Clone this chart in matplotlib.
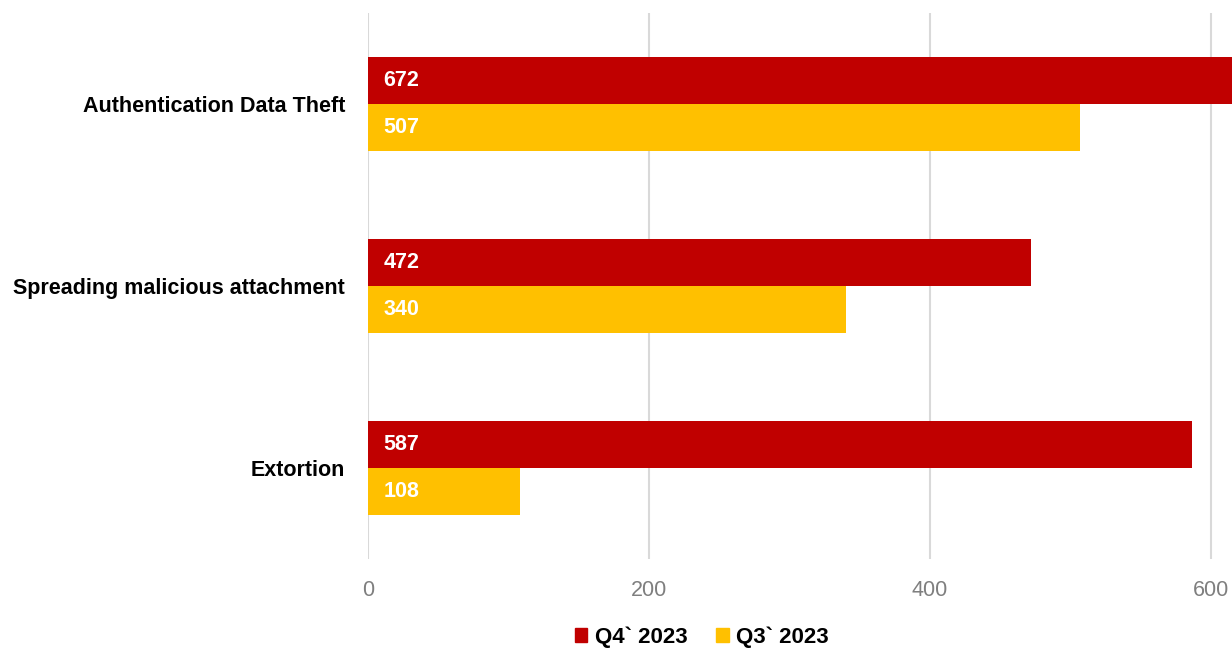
import matplotlib
matplotlib.use('Agg')
import matplotlib.pyplot as plt
from matplotlib.patches import Patch

plt.rcParams['font.family'] = ['Liberation Sans', 'DejaVu Sans']

# data
categories = ['Authentication Data Theft', 'Spreading malicious attachment', 'Extortion']
q4_2023 = [672, 472, 587]
q3_2023 = [507, 340, 108]
series_names = ['Q4` 2023', 'Q3` 2023']
colors = ['#C00000', '#FFC000']

fig = plt.figure(figsize=(12.32, 6.48), dpi=100)
ax = fig.add_axes([368/1232, 1 - 559/648, 1 - 368/1232, 546/648])

h = 0.258
ypos = list(range(len(categories)))
b1 = ax.barh([y - h/2 for y in ypos], q4_2023, height=h, color=colors[0])
b2 = ax.barh([y + h/2 for y in ypos], q3_2023, height=h, color=colors[1])

for bars, vals in [(b1, q4_2023), (b2, q3_2023)]:
    for b, v in zip(bars, vals):
        ax.text(11, b.get_y() + b.get_height()/2, str(v), color='white',
                fontsize=15.5, fontweight='semibold', va='center', ha='left')

ax.set_ylim(2.5, -0.5)
ax.set_xlim(0, 615.2)
ax.set_xticks([0, 200, 400, 600])
ax.set_yticks(ypos)
ax.set_yticklabels(categories, fontsize=15.5, fontweight='semibold')
ax.tick_params(axis='x', colors='#7f7f7f', labelsize=15.5, length=0, pad=15)
ax.tick_params(axis='y', length=0, pad=16.5)
ax.grid(axis='x', color='#d9d9d9', linewidth=1.5)
ax.set_axisbelow(True)
for s in ax.spines.values():
    s.set_visible(False)

handles = [Patch(color=c) for c in colors]
fig.legend(handles, series_names, loc='center', bbox_to_anchor=(702/1232, 1 - 637/648),
           ncol=2, frameon=False, prop={'weight': 'semibold', 'size': 16},
           handlelength=0.55, handleheight=0.55, handletextpad=0.35, columnspacing=1.3)

fig.savefig('out.png', dpi=100)
